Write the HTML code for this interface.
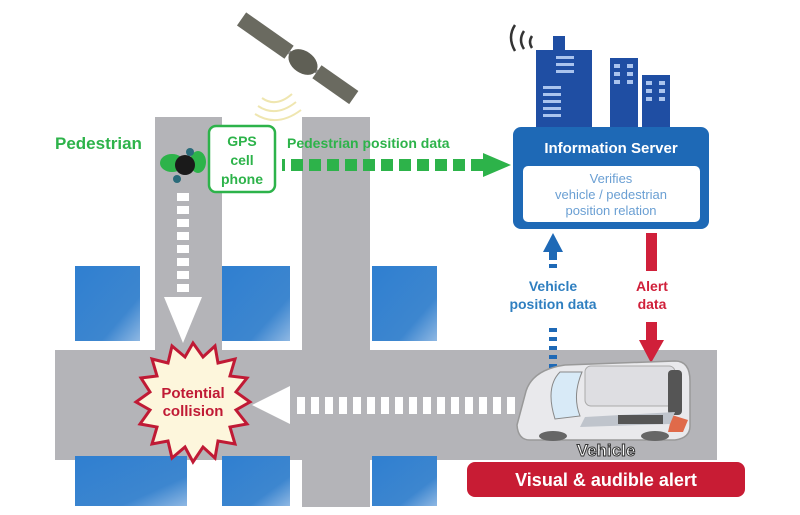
<!DOCTYPE html>
<html><head><meta charset="utf-8"><style>
html,body{margin:0;padding:0;background:#fff;}
svg{display:block;font-family:"Liberation Sans",sans-serif;}
</style></head><body>
<svg width="800" height="515" viewBox="0 0 800 515" xmlns="http://www.w3.org/2000/svg">
<defs>
<linearGradient id="bl" x1="0" y1="0" x2="1" y2="1"><stop offset="0" stop-color="#2f7fd0"/><stop offset="0.7" stop-color="#3d86cf"/><stop offset="1" stop-color="#8fb8e3"/></linearGradient>
</defs>
<!-- roads -->
<rect x="155" y="117" width="67" height="240" fill="#b4b4b8"/>
<rect x="302" y="117" width="68" height="390" fill="#b4b4b8"/>
<rect x="55" y="350" width="662" height="110" fill="#b4b4b8"/>
<!-- blocks -->
<g fill="url(#bl)">
<rect x="75" y="266" width="65" height="75"/>
<rect x="222" y="266" width="68" height="75"/>
<rect x="372" y="266" width="65" height="75"/>
<rect x="75" y="456" width="112" height="50"/>
<rect x="222" y="456" width="68" height="50"/>
<rect x="372" y="456" width="65" height="50"/>
</g>
<!-- satellite -->
<g transform="translate(303,62) rotate(35)">
<rect x="-75" y="-8" width="58" height="16" fill="#6a6a60"/>
<rect x="17" y="-8" width="45" height="16" fill="#6a6a60"/>
<rect x="-17" y="-2" width="34" height="4" fill="#888"/>
<ellipse cx="0" cy="0" rx="16" ry="11" fill="#5f5f55"/>
</g>
<g fill="none" stroke="#efe6b0" stroke-width="2">
<path d="M262 98 q14 10 30 -4"/><path d="M258 106 q18 12 38 -4"/><path d="M255 114 q22 14 46 -4"/>
</g>
<!-- pedestrian -->
<ellipse cx="172" cy="163" rx="12" ry="9" fill="#2db34a"/>
<ellipse cx="198" cy="162" rx="8" ry="11" fill="#2db34a"/>
<circle cx="185" cy="165" r="10" fill="#1a1a1a"/>
<circle cx="190" cy="152" r="4" fill="#2a6b7a"/><circle cx="177" cy="179" r="4" fill="#2a6b7a"/>
<text x="55" y="149" font-size="17" font-weight="bold" fill="#2db34a">Pedestrian</text>
<rect x="209" y="126" width="66" height="66" rx="7" fill="#fff" stroke="#2db34a" stroke-width="2.5"/>
<g font-size="14" font-weight="bold" fill="#2db34a" text-anchor="middle">
<text x="242" y="146">GPS</text><text x="242" y="165">cell</text><text x="242" y="184">phone</text>
</g>
<text x="287" y="148" font-size="14" font-weight="bold" fill="#2db34a">Pedestrian position data</text>
<g fill="#2db34a">
<rect x="282" y="159" width="3" height="12"/>
<rect x="291" y="159" width="12" height="12"/><rect x="309" y="159" width="12" height="12"/><rect x="327" y="159" width="12" height="12"/><rect x="345" y="159" width="12" height="12"/><rect x="363" y="159" width="12" height="12"/><rect x="381" y="159" width="12" height="12"/><rect x="399" y="159" width="12" height="12"/><rect x="417" y="159" width="12" height="12"/><rect x="435" y="159" width="12" height="12"/><rect x="453" y="159" width="12" height="12"/><rect x="471" y="159" width="12" height="12"/>
<polygon points="483,153 511,165 483,177"/>
</g>
<!-- buildings -->
<g fill="#1f4ea3">
<rect x="536" y="50" width="56" height="80"/><rect x="553" y="36" width="12" height="16"/>
<rect x="610" y="58" width="28" height="72"/><rect x="642" y="75" width="28" height="55"/>
</g>
<g fill="#aac4ee">
<rect x="556" y="56" width="18" height="3"/><rect x="556" y="63" width="18" height="3"/><rect x="556" y="70" width="18" height="3"/>
<rect x="543" y="86" width="18" height="3"/><rect x="543" y="93" width="18" height="3"/><rect x="543" y="100" width="18" height="3"/><rect x="543" y="107" width="18" height="3"/><rect x="543" y="114" width="18" height="3"/>
<rect x="614" y="64" width="6" height="4"/><rect x="627" y="64" width="6" height="4"/><rect x="614" y="72" width="6" height="4"/><rect x="627" y="72" width="6" height="4"/><rect x="614" y="80" width="6" height="4"/><rect x="627" y="80" width="6" height="4"/>
<rect x="646" y="81" width="6" height="4"/><rect x="659" y="81" width="6" height="4"/><rect x="646" y="89" width="6" height="4"/><rect x="659" y="89" width="6" height="4"/><rect x="646" y="97" width="6" height="4"/><rect x="659" y="97" width="6" height="4"/>
</g>
<g fill="none" stroke="#333" stroke-width="2.5">
<path d="M515 25 q-8 12 0 26"/><path d="M524 31 q-6 9 0 18"/><path d="M532 36 q-4 6 0 12"/>
</g>
<!-- server -->
<rect x="513" y="127" width="196" height="102" rx="8" fill="#1e69b6"/>
<text x="611" y="153" font-size="15" font-weight="bold" fill="#fff" text-anchor="middle">Information Server</text>
<rect x="523" y="166" width="177" height="56" rx="5" fill="#fff"/>
<g font-size="13" fill="#6a9fd3" text-anchor="middle">
<text x="611" y="183">Verifies</text><text x="611" y="199">vehicle / pedestrian</text><text x="611" y="215">position relation</text>
</g>
<!-- vehicle position arrow -->
<g fill="#1e69b6">
<polygon points="553,233 543,252 563,252"/><rect x="549" y="251" width="8" height="9"/><rect x="549" y="264" width="8" height="4"/>
<rect x="549" y="328" width="8" height="4"/><rect x="549" y="337" width="8" height="4"/><rect x="549" y="346" width="8" height="4"/><rect x="549" y="355" width="8" height="4"/><rect x="549" y="364" width="8" height="4"/>
</g>
<g font-size="14" font-weight="bold" fill="#2f7fc0" text-anchor="middle">
<text x="553" y="291">Vehicle</text><text x="553" y="309">position data</text>
</g>
<!-- alert arrow -->
<g fill="#d0203a">
<rect x="646" y="233" width="11" height="38"/>
<rect x="646" y="322" width="11" height="24"/><polygon points="639,340 664,340 651,363"/>
</g>
<g font-size="14" font-weight="bold" fill="#d0203a" text-anchor="middle">
<text x="652" y="291">Alert</text><text x="652" y="309">data</text>
</g>
<!-- white arrows -->
<g fill="#fff">
<rect x="177" y="193" width="12" height="8"/><rect x="177" y="206" width="12" height="8"/><rect x="177" y="219" width="12" height="8"/><rect x="177" y="232" width="12" height="8"/><rect x="177" y="245" width="12" height="8"/><rect x="177" y="258" width="12" height="8"/><rect x="177" y="271" width="12" height="8"/><rect x="177" y="284" width="12" height="8"/>
<polygon points="164,297 202,297 183,343"/>
<polygon points="252,405 290,386 290,424"/>
</g>
<g fill="#fff">
<rect x="297" y="397" width="8" height="17"/><rect x="311" y="397" width="8" height="17"/><rect x="325" y="397" width="8" height="17"/><rect x="339" y="397" width="8" height="17"/><rect x="353" y="397" width="8" height="17"/><rect x="367" y="397" width="8" height="17"/><rect x="381" y="397" width="8" height="17"/><rect x="395" y="397" width="8" height="17"/><rect x="409" y="397" width="8" height="17"/><rect x="423" y="397" width="8" height="17"/><rect x="437" y="397" width="8" height="17"/><rect x="451" y="397" width="8" height="17"/><rect x="465" y="397" width="8" height="17"/><rect x="479" y="397" width="8" height="17"/><rect x="493" y="397" width="8" height="17"/><rect x="507" y="397" width="8" height="17"/>
</g>
<!-- starburst -->
<polygon fill="#fdf6dc" stroke="#c01a35" stroke-width="3" points="250,402 236,410 247,424 230,427 235,444 218,441 215,458 203,447 193,462 185,447 172,458 168,441 152,444 157,427 140,424 150,410 136,402 150,392 141,378 157,376 152,359 168,363 172,346 185,357 193,343 203,357 215,346 218,363 235,359 230,376 247,378 236,392"/>
<g font-size="15" font-weight="bold" fill="#c01a35" text-anchor="middle">
<text x="193" y="398">Potential</text><text x="193" y="416">collision</text>
</g>
<!-- car -->
<g>
<path d="M525 395 q5 -25 40 -30 l110 -4 q15 0 15 20 l0 45 q0 12 -15 14 l-145 0 q-12 0 -13 -15 z" fill="#e9e9ec" stroke="#999" stroke-width="1.5"/>
<path d="M560 372 q-15 15 -5 47 l25 -3 q-8 -20 2 -44 z" fill="#d8eaf7" stroke="#888"/>
<rect x="585" y="366" width="90" height="40" rx="6" fill="#dedee2" stroke="#aaa"/>
<rect x="668" y="370" width="14" height="45" rx="4" fill="#555"/>
<path d="M672 415 l16 5 l-5 12 l-15 0 z" fill="#e06a4a"/>
<path d="M585 417 l90 -5 l-5 12 l-90 3 z" fill="#bfc4cc"/>
<rect x="618" y="415" width="45" height="9" fill="#555"/>
<ellipse cx="553" cy="436" rx="14" ry="5" fill="#666"/><ellipse cx="655" cy="436" rx="14" ry="5" fill="#666"/>
</g>
<text x="606" y="456" font-size="17" font-weight="bold" fill="#fff" stroke="#333" stroke-width="1" text-anchor="middle">Vehicle</text>
<rect x="467" y="462" width="278" height="35" rx="8" fill="#c81c34"/>
<text x="606" y="486" font-size="18" font-weight="bold" fill="#fff" text-anchor="middle">Visual &amp; audible alert</text>
</svg>
</body></html>
